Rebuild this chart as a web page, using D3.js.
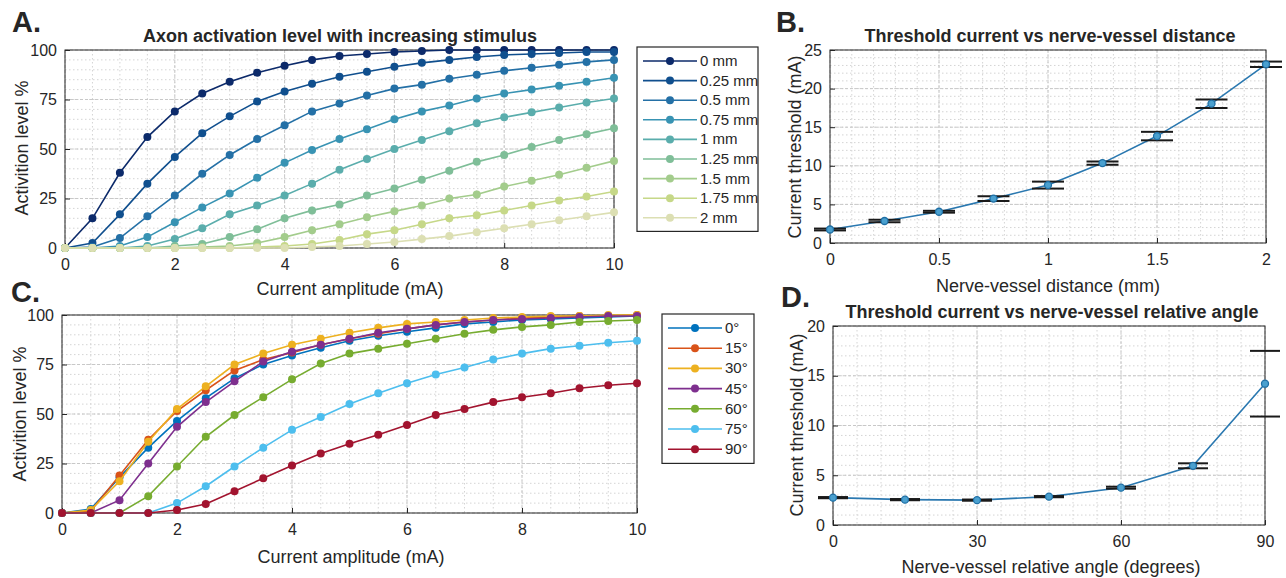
<!DOCTYPE html>
<html lang="en">
<head>
<meta charset="UTF-8">
<title>Axon activation</title>
<style>
  body { margin: 0; background: #fff; }
  text { font-family: "Liberation Sans", Arial, sans-serif; fill: #262626; }
</style>
</head>
<body>
<svg id="viz" width="1286" height="578"></svg>
<script src="https://d3js.org/d3.v7.min.js"></script>
<script>
// ---- data ----
const ampX = d3.range(0, 10.01, 0.5);

const distLabels = ["0 mm", "0.25 mm", "0.5 mm", "0.75 mm", "1 mm", "1.25 mm", "1.5 mm", "1.75 mm", "2 mm"];
const distColors = ["#0c2a6a", "#104f8e", "#2470a6", "#3893b3", "#5aadac", "#7fbe98", "#a3cc8c", "#c6d888", "#dcdfb3"];
const actDist = [
  [0, 15, 38, 56, 69, 78, 84, 88.5, 92, 95, 97, 98, 99, 99.5, 100, 100, 100, 100, 100, 100, 100],
  [0, 2.5, 17, 32.5, 46, 58, 66.5, 74, 79, 83, 86.5, 89, 91.5, 93.5, 95, 96.5, 97.5, 98, 98.5, 99, 99],
  [0, 0.5, 5, 16, 26.5, 37.5, 47, 55, 62, 69, 73, 77, 80.5, 82.5, 85.5, 87.5, 89.5, 91, 92.5, 94, 95],
  [0, 0, 1, 5.5, 13, 20.5, 27.5, 35.5, 43, 49.5, 55, 60, 65, 69, 72, 75.5, 78, 80, 82, 84, 86],
  [0, 0, 0, 1, 4.5, 10, 17, 21.5, 26.5, 32.5, 39.5, 45, 50, 54.5, 59, 63, 66, 68.5, 71, 73.5, 75.5],
  [0, 0, 0, 0, 1, 2, 5.5, 9.5, 15, 19, 22, 26.5, 30, 34.5, 39, 43.5, 47, 51, 54.5, 57.5, 60.5],
  [0, 0, 0, 0, 0, 0.5, 1, 2.5, 5.5, 9, 12, 15.5, 18.5, 21.5, 25, 27, 31, 34, 37, 40.5, 44],
  [0, 0, 0, 0, 0, 0, 0, 0.5, 1, 2, 4, 7, 9, 12, 15, 16.5, 19, 21.5, 24, 26, 28.5],
  [0, 0, 0, 0, 0, 0, 0, 0, 0, 0.5, 1, 2, 3, 4.5, 6, 8, 10, 12, 14, 16, 18]
];

const angLabels = ["0°", "15°", "30°", "45°", "60°", "75°", "90°"];
const angColors = ["#0072BD", "#D95319", "#EDB120", "#7E2F8E", "#77AC30", "#4DBEEE", "#A2142F"];
const actAng = [
  [0, 2, 18, 33, 46.5, 58, 68, 75, 79.5, 83.5, 87, 89.5, 91.5, 93.5, 95.5, 96.5, 97.5, 98, 98.5, 99, 99.5],
  [0, 1, 19, 37, 51.5, 62, 72, 77.5, 81, 85, 88, 90.5, 93, 95, 96.5, 97.5, 98.5, 99, 99.5, 99.5, 100],
  [0, 1.5, 16, 36, 52.5, 64, 75, 80.5, 85, 88, 91, 93.5, 95.5, 96.5, 97.5, 98.5, 99, 99.5, 99.5, 100, 100],
  [0, 0, 6.5, 25, 43.5, 56, 66.5, 76.5, 81.5, 85, 88, 91, 93, 95, 96.5, 97.5, 98, 98.5, 99, 99.5, 99.5],
  [0, 0, 0, 8.5, 23.5, 38.5, 49.5, 58.5, 67.5, 75.5, 80.5, 83, 85.5, 88, 90.5, 92.5, 94, 95, 96.5, 97, 97.5],
  [0, 0, 0, 0, 5, 13.5, 23.5, 33, 42, 48.5, 55, 60.5, 65.5, 70, 73.5, 77.5, 80.5, 83, 84.5, 86, 87],
  [0, 0, 0, 0, 1.5, 4.5, 11, 17.5, 24, 30, 35, 39.5, 44.5, 49.5, 52.5, 56, 58.5, 60.5, 63, 64.5, 65.5]
];

const distX = [0, 0.25, 0.5, 0.75, 1, 1.25, 1.5, 1.75, 2];
const distThr = [1.75, 2.85, 4.05, 5.75, 7.5, 10.35, 13.85, 18.05, 23.15];
const distErr = [0.12, 0.15, 0.12, 0.3, 0.45, 0.2, 0.55, 0.55, 0.35];

const angX = [0, 15, 30, 45, 60, 75, 90];
const angThr = [2.75, 2.55, 2.5, 2.85, 3.75, 5.95, 14.2];
const angErr = [0.06, 0.06, 0.06, 0.06, 0.1, 0.25, 3.3];

// ---- helpers ----
const svg = d3.select("#viz");

function makeAxes(box, xDom, yDom, xTicks, yTicks, xMinor, yMinor) {
  const x = d3.scaleLinear().domain(xDom).range([box.l, box.r]);
  const y = d3.scaleLinear().domain(yDom).range([box.b, box.t]);
  const g = svg.append("g");

  // minor grid
  g.selectAll(".vminor").data(xMinor).enter().append("line")
    .attr("x1", d => x(d)).attr("x2", d => x(d)).attr("y1", box.t).attr("y2", box.b)
    .attr("stroke", "#d4d4d4").attr("stroke-width", 1).attr("stroke-dasharray", "1.5,2.5");
  g.selectAll(".hminor").data(yMinor).enter().append("line")
    .attr("y1", d => y(d)).attr("y2", d => y(d)).attr("x1", box.l).attr("x2", box.r)
    .attr("stroke", "#d4d4d4").attr("stroke-width", 1).attr("stroke-dasharray", "1.5,2.5");
  // major grid
  g.selectAll(".vmajor").data(xTicks).enter().append("line")
    .attr("x1", d => x(d)).attr("x2", d => x(d)).attr("y1", box.t).attr("y2", box.b)
    .attr("stroke", "#c8c8c8").attr("stroke-width", 1).attr("stroke-dasharray", "3,2");
  g.selectAll(".hmajor").data(yTicks).enter().append("line")
    .attr("y1", d => y(d)).attr("y2", d => y(d)).attr("x1", box.l).attr("x2", box.r)
    .attr("stroke", "#c8c8c8").attr("stroke-width", 1).attr("stroke-dasharray", "3,2");

  const xa = svg.append("g").attr("transform", `translate(0,${box.b})`)
    .call(d3.axisBottom(x).tickValues(xTicks).tickSizeInner(-5).tickSizeOuter(0).tickPadding(11).tickFormat(d => d));
  const ya = svg.append("g").attr("transform", `translate(${box.l},0)`)
    .call(d3.axisLeft(y).tickValues(yTicks).tickSizeInner(-5).tickSizeOuter(0).tickPadding(8));
  [xa, ya].forEach(a => {
    a.select(".domain").remove();
    a.selectAll("line").attr("stroke", "#262626");
    a.selectAll("text").style("font-size", "16px").attr("fill", "#262626");
  });
  // box
  svg.append("rect").attr("x", box.l).attr("y", box.t)
    .attr("width", box.r - box.l).attr("height", box.b - box.t)
    .attr("fill", "none").attr("stroke", "#262626").attr("stroke-width", 1);
  return { x, y };
}

function label(txt, x, y, size, bold, rot) {
  const t = svg.append("text").attr("x", x).attr("y", y)
    .attr("text-anchor", "middle").style("font-size", size + "px")
    .style("font-weight", bold ? "bold" : "normal").text(txt);
  if (rot) t.attr("transform", `rotate(-90,${x},${y})`);
  return t;
}

function panelLetter(txt, x, y) {
  svg.append("text").attr("x", x).attr("y", y)
    .style("font-size", "29px").style("font-weight", "bold")
    .attr("fill", "#000").text(txt);
}

function curves(sc, xs, series, colors, r) {
  const line = d3.line().x((d, i) => sc.x(xs[i])).y(d => sc.y(d));
  series.forEach((s, k) => {
    const g = svg.append("g");
    g.append("path").datum(s).attr("d", line).attr("fill", "none")
      .attr("stroke", colors[k]).attr("stroke-width", 1.6);
    g.selectAll("circle").data(s).enter().append("circle")
      .attr("cx", (d, i) => sc.x(xs[i])).attr("cy", d => sc.y(d)).attr("r", r)
      .attr("fill", colors[k]);
  });
}

function legend(x0, y0, w, step, labels, colors) {
  const h = step * labels.length + 8;
  svg.append("rect").attr("x", x0).attr("y", y0).attr("width", w).attr("height", h)
    .attr("fill", "#fff").attr("stroke", "#262626").attr("stroke-width", 1.2);
  labels.forEach((lab, i) => {
    const yy = y0 + 14 + i * step;
    svg.append("line").attr("x1", x0 + 6).attr("x2", x0 + 60).attr("y1", yy).attr("y2", yy)
      .attr("stroke", colors[i]).attr("stroke-width", 1.6);
    svg.append("circle").attr("cx", x0 + 33).attr("cy", yy).attr("r", 4).attr("fill", colors[i]);
    svg.append("text").attr("x", x0 + 63).attr("y", yy + 5).style("font-size", "15px").text(lab);
  });
}

function errPlot(sc, xs, ys, es, capW) {
  const line = d3.line().x((d, i) => sc.x(xs[i])).y(d => sc.y(d));
  svg.append("path").datum(ys).attr("d", line).attr("fill", "none")
    .attr("stroke", "#2a78b0").attr("stroke-width", 1.6);
  const caps = [];
  ys.forEach((v, i) => { caps.push([xs[i], v + es[i]]); caps.push([xs[i], v - es[i]]); });
  svg.selectAll(null).data(caps).enter().append("line")
    .attr("x1", d => sc.x(d[0]) - capW).attr("x2", d => sc.x(d[0]) + capW)
    .attr("y1", d => sc.y(d[1])).attr("y2", d => sc.y(d[1]))
    .attr("stroke", "#1a1a1a").attr("stroke-width", 2);
  svg.selectAll(null).data(ys).enter().append("circle")
    .attr("cx", (d, i) => sc.x(xs[i])).attr("cy", d => sc.y(d)).attr("r", 3.5)
    .attr("fill", "#4aa0cf").attr("stroke", "#1f6fa5").attr("stroke-width", 1.3);
}

// ---- panel A ----
const boxA = { l: 65, r: 614, t: 50, b: 248 };
const scA = makeAxes(boxA, [0, 10], [0, 100], [0, 2, 4, 6, 8, 10], [0, 25, 50, 75, 100],
  d3.range(0.5, 10, 0.5), d3.range(5, 100, 5));
curves(scA, ampX, actDist, distColors, 4);
label("Axon activation level with increasing stimulus", 340, 42, 18, true);
label("Current amplitude (mA)", 350, 295, 18, false);
label("Activition level %", 28, 148, 18, false, true);
legend(637, 47, 121, 19.6, distLabels, distColors);
panelLetter("A.", 12, 32);

// ---- panel B ----
const boxB = { l: 830, r: 1266, t: 50, b: 243 };
const scB = makeAxes(boxB, [0, 2], [0, 25], [0, 0.5, 1, 1.5, 2], [0, 5, 10, 15, 20, 25],
  d3.range(0.1, 2, 0.1), d3.range(1, 25, 1));
errPlot(scB, distX, distThr, distErr, 16);
label("Threshold current vs nerve-vessel distance", 1050, 42, 18, true);
label("Nerve-vessel distance (mm)", 1048, 292, 18, false);
label("Current threshold (mA)", 801, 147, 18, false, true);
panelLetter("B.", 776, 32);

// ---- panel C ----
const boxC = { l: 62, r: 637, t: 315, b: 513 };
const scC = makeAxes(boxC, [0, 10], [0, 100], [0, 2, 4, 6, 8, 10], [0, 25, 50, 75, 100],
  d3.range(0.5, 10, 0.5), d3.range(5, 100, 5));
curves(scC, ampX, actAng, angColors, 4);
label("Current amplitude (mA)", 351, 563, 18, false);
label("Activition level %", 26, 414, 18, false, true);
legend(662, 314, 92, 20.2, angLabels, angColors);
panelLetter("C.", 11, 302);

// ---- panel D ----
const boxD = { l: 833, r: 1265, t: 326, b: 525 };
const scD = makeAxes(boxD, [0, 90], [0, 20], [0, 30, 60, 90], [0, 5, 10, 15, 20],
  d3.range(5, 90, 5), d3.range(1, 20, 1));
errPlot(scD, angX, angThr, angErr, 15);
label("Threshold current vs nerve-vessel relative angle", 1052, 318, 18, true);
label("Nerve-vessel relative angle (degrees)", 1051, 573, 18, false);
label("Current threshold (mA)", 803, 425, 18, false, true);
panelLetter("D.", 781, 307);
</script>
</body>
</html>
